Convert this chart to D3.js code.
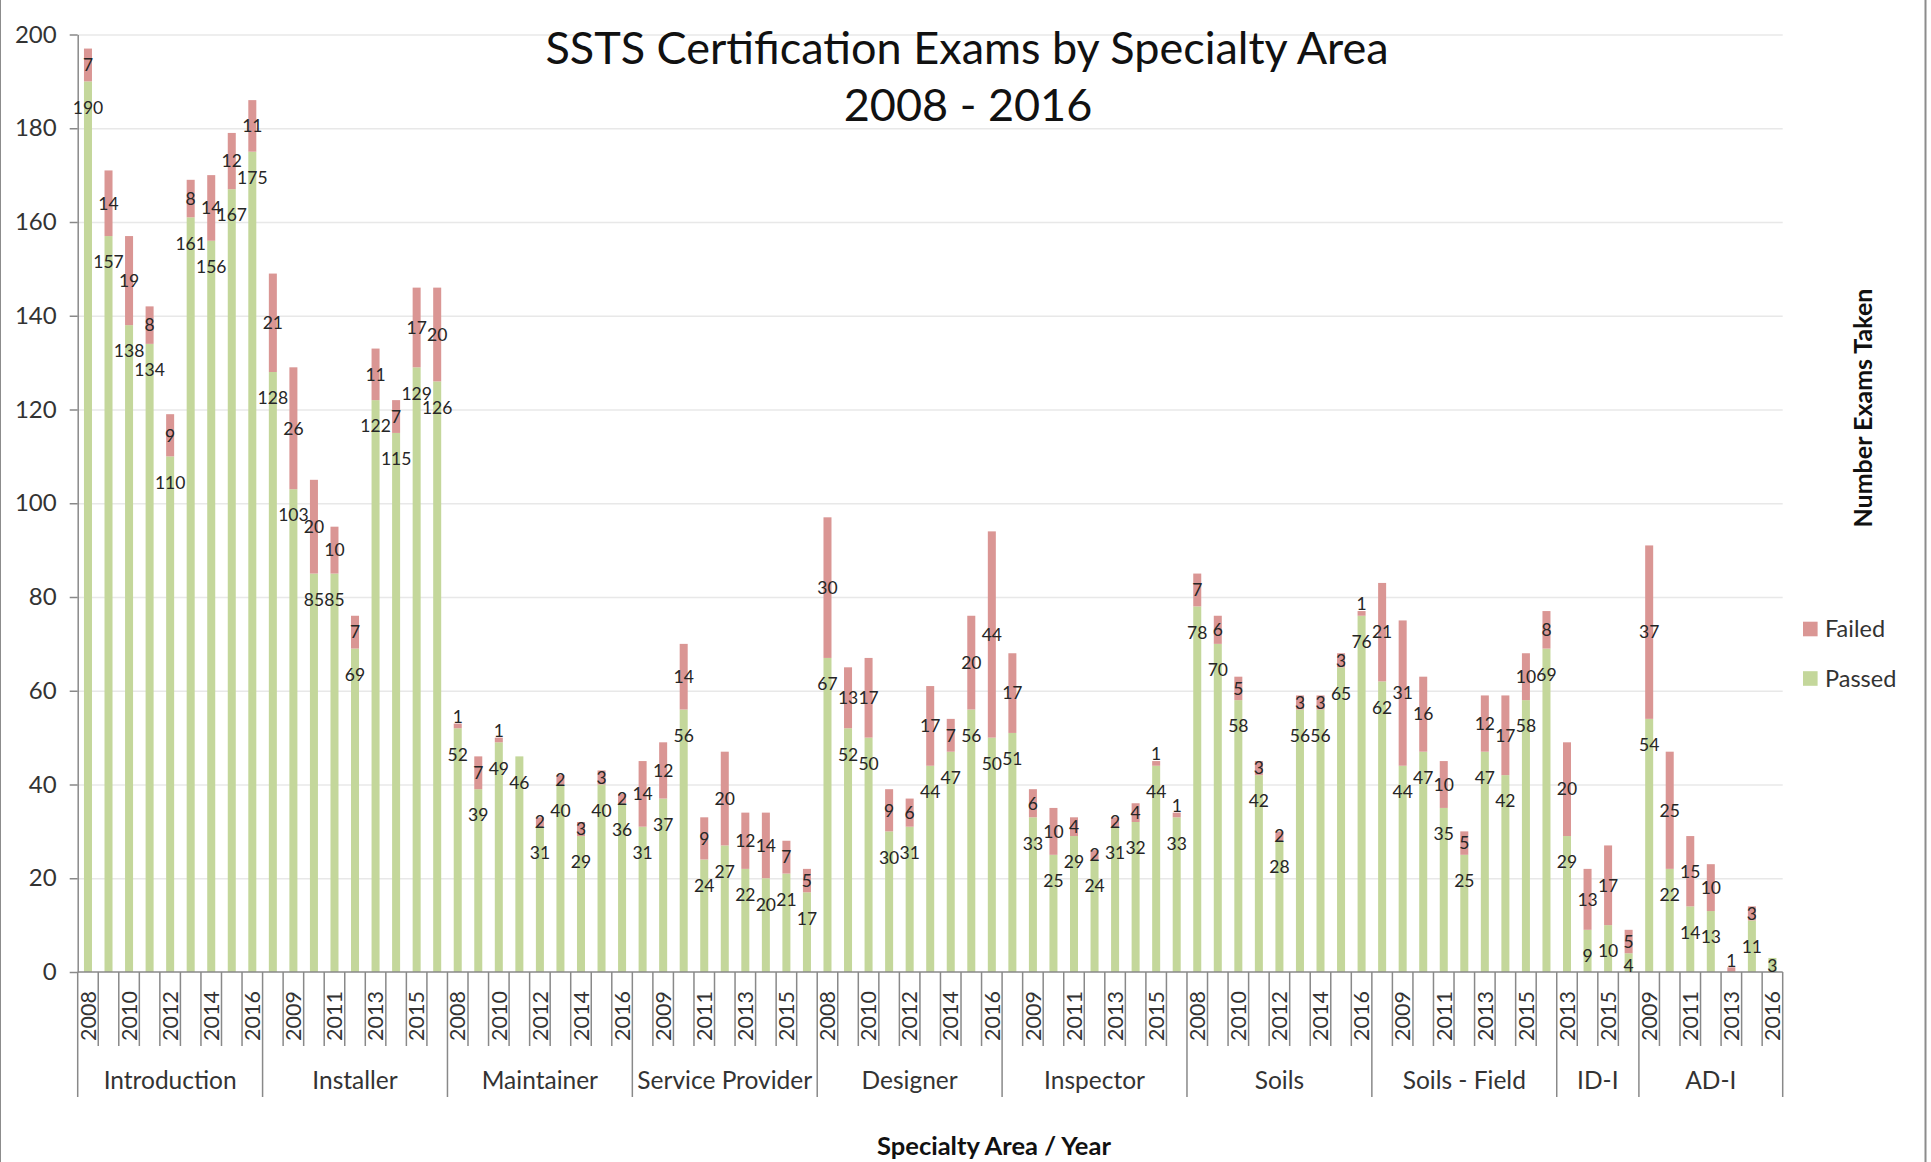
<!DOCTYPE html>
<html>
<head>
<meta charset="utf-8">
<script src="https://cdn.jsdelivr.net/npm/d3@7"></script>
<style>
  body { margin: 0; background: #fff; }
  text { font-family: Lato, "Open Sans", sans-serif; }
</style>
</head>
<body>
<svg id="chart" width="1931" height="1162"></svg>
<script>
// specialty areas, in axis order
var groups = ["Introduction", "Installer", "Maintainer", "Service Provider", "Designer",
              "Inspector", "Soils", "Soils - Field", "ID-I", "AD-I"];

// exam years per area (tick labels)
var groupYears = [
  [2008, 2009, 2010, 2011, 2012, 2013, 2014, 2015, 2016],
  [2008, 2009, 2010, 2011, 2012, 2013, 2014, 2015, 2016],
  [2008, 2009, 2010, 2011, 2012, 2013, 2014, 2015, 2016],
  [2008, 2009, 2010, 2011, 2012, 2013, 2014, 2015, 2016],
  [2008, 2009, 2010, 2011, 2012, 2013, 2014, 2015, 2016],
  [2008, 2009, 2010, 2011, 2012, 2013, 2014, 2015, 2016],
  [2008, 2009, 2010, 2011, 2012, 2013, 2014, 2015, 2016],
  [2008, 2009, 2010, 2011, 2012, 2013, 2014, 2015, 2016],
  [2013, 2014, 2015, 2016],
  [2009, 2010, 2011, 2012, 2013, 2014, 2016]
];

var passed = [
  [190, 157, 138, 134, 110, 161, 156, 167, 175],
  [128, 103, 85, 85, 69, 122, 115, 129, 126],
  [52, 39, 49, 46, 31, 40, 29, 40, 36],
  [31, 37, 56, 24, 27, 22, 20, 21, 17],
  [67, 52, 50, 30, 31, 44, 47, 56, 50],
  [51, 33, 25, 29, 24, 31, 32, 44, 33],
  [78, 70, 58, 42, 28, 56, 56, 65, 76],
  [62, 44, 47, 35, 25, 47, 42, 58, 69],
  [29, 9, 10, 4],
  [54, 22, 14, 13, 0, 11, 3]
];

var failed = [
  [7, 14, 19, 8, 9, 8, 14, 12, 11],
  [21, 26, 20, 10, 7, 11, 7, 17, 20],
  [1, 7, 1, 0, 2, 2, 3, 3, 2],
  [14, 12, 14, 9, 20, 12, 14, 7, 5],
  [30, 13, 17, 9, 6, 17, 7, 20, 44],
  [17, 6, 10, 4, 2, 2, 4, 1, 1],
  [7, 6, 5, 3, 2, 3, 3, 3, 1],
  [21, 31, 16, 10, 5, 12, 17, 10, 8],
  [20, 13, 17, 5],
  [37, 25, 15, 10, 1, 3, 0]
];

var yTicks = [0, 20, 40, 60, 80, 100, 120, 140, 160, 180, 200];

var colors = { passed: "#c4d79b", failed: "#da9694" };

(function() {
  // flatten into one row per bar
  var rows = [];
  groups.forEach(function(g, gi) {
    groupYears[gi].forEach(function(yr, i) {
      rows.push({ idx: rows.length, group: g, gi: gi, year: yr,
                  passed: passed[gi][i], failed: failed[gi][i] });
    });
  });

  var svg = d3.select("#chart");
  var left = 77.7, right = 1782.7, base = 972, plotTop = 34.5;

  var x = d3.scaleBand()
    .domain(rows.map(function(d) { return d.idx; }))
    .range([left, right])
    .paddingInner(0.61)
    .paddingOuter(0.305);
  var y = d3.scaleLinear().domain([0, 200]).range([base, plotTop]);
  var half = (x.step() - x.bandwidth()) / 2;

  // border of chart area
  svg.append("line").attr("x1", 1925.5).attr("x2", 1925.5).attr("y1", 0).attr("y2", 1162)
    .attr("stroke", "#8c8c8c").attr("stroke-width", 2);
  svg.append("line").attr("x1", 0.5).attr("x2", 0.5).attr("y1", 0).attr("y2", 1162)
    .attr("stroke", "#8c8c8c").attr("stroke-width", 1);

  // gridlines
  var grid = svg.append("g").attr("transform", "translate(" + left + ",0)")
    .call(d3.axisLeft(y).tickValues(yTicks.slice(1)).tickSize(-(right - left)).tickFormat(""));
  grid.select(".domain").remove();
  grid.selectAll("line").attr("stroke", "#e8e8e8").attr("stroke-width", 1.5);

  // stacked bars
  var series = d3.stack().keys(["passed", "failed"])(rows);
  svg.append("g").selectAll("g")
    .data(series)
    .enter().append("g")
    .attr("fill", function(s) { return colors[s.key]; })
    .selectAll("rect")
    .data(function(s) { return s; })
    .enter().append("rect")
    .attr("x", function(d) { return x(d.data.idx); })
    .attr("width", x.bandwidth())
    .attr("y", function(d) { return y(d[1]); })
    .attr("height", function(d) { return y(d[0]) - y(d[1]); });

  // y axis
  var yAxis = svg.append("g").attr("transform", "translate(" + left + ",0)")
    .call(d3.axisLeft(y).tickValues(yTicks).tickSize(8).tickSizeOuter(0).tickPadding(13));
  yAxis.select(".domain").attr("stroke", "#898989").attr("stroke-width", 1.5);
  yAxis.selectAll("line").attr("stroke", "#898989").attr("stroke-width", 1.5);
  yAxis.selectAll("text").attr("font-size", 24).attr("fill", "#333")
    .style("font-family", "Lato, sans-serif");

  // x axis baseline
  svg.append("line").attr("x1", left).attr("x2", right).attr("y1", base).attr("y2", base)
    .attr("stroke", "#898989").attr("stroke-width", 1.5);

  // category separators, longer ones between areas
  var xaxis = svg.append("g");
  rows.forEach(function(d, i) {
    var bx = x(d.idx) - half;
    var groupStart = i === 0 || rows[i - 1].gi !== d.gi;
    xaxis.append("line").attr("x1", bx).attr("x2", bx)
      .attr("y1", base).attr("y2", groupStart ? 1097 : 1046)
      .attr("stroke", "#898989").attr("stroke-width", 1.5);
  });
  xaxis.append("line").attr("x1", right).attr("x2", right).attr("y1", base).attr("y2", 1097)
    .attr("stroke", "#898989").attr("stroke-width", 1.5);

  // year labels, every second category
  xaxis.selectAll("text.year")
    .data(rows.filter(function(d) { return d.idx % 2 === 0; }))
    .enter().append("text")
    .attr("class", "year")
    .attr("transform", function(d) {
      return "translate(" + (x(d.idx) + x.bandwidth() / 2) + ",991) rotate(-90)";
    })
    .attr("text-anchor", "end")
    .attr("dy", "0.36em")
    .attr("font-size", 21.5)
    .attr("fill", "#333")
    .text(function(d) { return d.year; });

  // area labels
  groups.forEach(function(g, gi) {
    var r = rows.filter(function(d) { return d.gi === gi; });
    var x0 = x(r[0].idx) - half;
    var x1 = x(r[r.length - 1].idx) + x.bandwidth() + half;
    xaxis.append("text")
      .attr("x", (x0 + x1) / 2).attr("y", 1080)
      .attr("dy", "0.36em")
      .attr("text-anchor", "middle")
      .attr("font-size", 24.5)
      .attr("fill", "#333")
      .text(g);
  });

  // data labels
  var labels = svg.append("g").attr("font-size", 17.5).attr("fill", "#262626")
    .attr("text-anchor", "middle");
  labels.selectAll("text.p")
    .data(rows.filter(function(d) { return d.passed > 0; }))
    .enter().append("text")
    .attr("class", "p")
    .attr("x", function(d) { return x(d.idx) + x.bandwidth() / 2; })
    .attr("y", function(d) { return Math.min(y(d.passed) + 26, base - 6); })
    .attr("dy", "0.36em")
    .text(function(d) { return d.passed; });
  labels.selectAll("text.f")
    .data(rows.filter(function(d) { return d.failed > 0; }))
    .enter().append("text")
    .attr("class", "f")
    .attr("x", function(d) { return x(d.idx) + x.bandwidth() / 2; })
    .attr("y", function(d) {
      var t = y(d.passed + d.failed), b = y(d.passed);
      return (b - t) < 6 ? t - 7 : (t + b) / 2;
    })
    .attr("dy", "0.36em")
    .text(function(d) { return d.failed; });

  // titles
  svg.append("text").attr("x", 967).attr("y", 64).attr("text-anchor", "middle")
    .attr("font-size", 45).attr("fill", "#111").text("SSTS Certification Exams by Specialty Area");
  svg.append("text").attr("x", 968).attr("y", 121).attr("text-anchor", "middle")
    .attr("font-size", 45).attr("fill", "#111").text("2008 - 2016");

  svg.append("text").attr("x", 994).attr("y", 1146).attr("dy", "0.36em")
    .attr("text-anchor", "middle").attr("font-size", 25.5).attr("font-weight", "bold")
    .attr("fill", "#111").text("Specialty Area / Year");

  svg.append("text")
    .attr("transform", "translate(1862.7,408) rotate(-90)")
    .attr("dy", "0.36em").attr("text-anchor", "middle")
    .attr("font-size", 25).attr("font-weight", "bold").attr("fill", "#111")
    .text("Number Exams Taken");

  // legend
  var legend = svg.append("g");
  [["Failed", colors.failed, 629], ["Passed", colors.passed, 678.5]].forEach(function(l) {
    legend.append("rect").attr("x", 1803).attr("y", l[2] - 7.3).attr("width", 14.6).attr("height", 14.6)
      .attr("fill", l[1]);
    legend.append("text").attr("x", 1825).attr("y", l[2]).attr("dy", "0.36em")
      .attr("font-size", 23.5).attr("fill", "#333").text(l[0]);
  });
})();
</script>
</body>
</html>
